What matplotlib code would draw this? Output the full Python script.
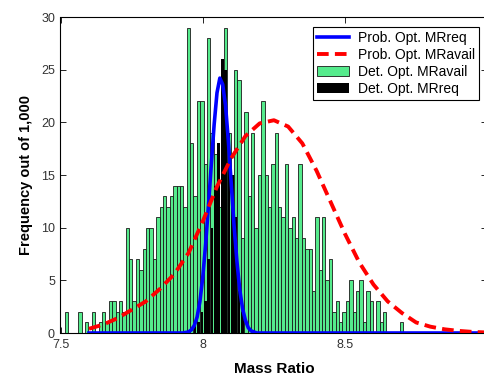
import numpy as np
import matplotlib
matplotlib.use('Agg')
import matplotlib.pyplot as plt

plt.rcParams['font.family'] = ['Liberation Sans', 'DejaVu Sans']

# histogram bins
bin_start = 7.515
bin_width = 0.0119

# Det. Opt. MRavail counts, one per bin
avail_counts = [2, 0, 0, 0, 2, 0, 1, 0, 2, 0,
                1, 2, 1, 3, 3, 2, 3, 2, 10, 7,
                3, 7, 6, 8, 10, 10, 7, 11, 12, 13,
                12, 13, 14, 14, 14, 12, 29, 18, 13, 22,
                22, 16, 28, 19, 17, 12, 15, 29, 19, 15,
                25, 24, 9, 21, 13, 19, 10, 15, 22, 15,
                12, 16, 19, 12, 11, 16, 10, 11, 9, 16,
                9, 8, 8, 4, 11, 6, 11, 5, 7, 2,
                3, 1, 2, 3, 5, 2, 4, 5, 1, 4,
                3, 0, 3, 1, 2, 0, 0, 0, 0, 1]

# Det. Opt. MRreq counts, starting at bin 38
req_first_bin = 38
req_counts = [1, 1, 2, 3, 7, 10, 14, 18, 26, 25, 19, 15, 11, 4, 2]

# Prob. Opt. MRreq curve
req_x = [7.60, 7.93, 7.95, 7.96, 7.97, 7.98, 7.99, 8.00, 8.01, 8.02,
         8.03, 8.04, 8.05, 8.06, 8.07, 8.08, 8.09, 8.10, 8.11, 8.12,
         8.13, 8.14, 8.15, 8.16, 8.17, 8.19, 9.00]
req_y = [0, 0, 0.1, 0.3, 0.7, 1.5, 3.0, 5.3, 8.4, 12.1,
         16.0, 19.8, 22.8, 24.2, 23.6, 21.6, 18.2, 14.2, 10.2, 6.8,
         4.1, 2.3, 1.2, 0.5, 0.2, 0, 0]

# Prob. Opt. MRavail curve
avail_x = [7.60, 7.65, 7.70, 7.75, 7.80, 7.85, 7.90, 7.95, 8.00, 8.05,
           8.10, 8.15, 8.20, 8.25, 8.30, 8.35, 8.40, 8.45, 8.50, 8.55,
           8.60, 8.65, 8.70, 8.75, 8.80, 8.85, 8.90, 8.95, 9.00]
avail_y = [0.4, 0.8, 1.4, 2.2, 3.0, 4.2, 5.6, 7.6, 10.6, 13.9,
           16.6, 18.7, 19.9, 20.2, 19.6, 18.0, 15.4, 12.4, 9.4, 6.7,
           4.6, 3.0, 1.9, 1.0, 0.6, 0.35, 0.2, 0.1, 0.05]

centers = bin_start + (np.arange(len(avail_counts)) + 0.5) * bin_width
req_centers = centers[req_first_bin:req_first_bin + len(req_counts)]

fig = plt.figure(figsize=(4.85, 3.79), dpi=100)
ax = fig.add_axes([60.5 / 485, 1 - 333 / 379, 426.8 / 485, 316 / 379])

b1 = ax.bar(centers, avail_counts, width=bin_width, color='#55eb8c',
            edgecolor='#1a1a1a', linewidth=0.6, zorder=2)
b2 = ax.bar(req_centers, req_counts, width=bin_width * 0.8, color='black',
            edgecolor='none', zorder=3)
l1, = ax.plot(req_x, req_y, color='#0000ff', lw=2.6, zorder=4)
l2, = ax.plot(avail_x, avail_y, color='#ff0000', lw=2.8, ls=(0, (3, 1.6)),
              zorder=5)

ax.set_xlim(7.5, 9)
ax.set_ylim(0, 30)
ax.set_xticks([7.5, 8, 8.5, 9])
ax.set_xticklabels(['7.5', '8', '8.5', '9'])
ax.set_yticks(range(0, 31, 5))
ax.tick_params(direction='in', top=True, right=True, labelsize=9,
               length=4, width=0.6, labelcolor='#333333', pad=4)
for s in ax.spines.values():
    s.set_linewidth(0.8)

ax.set_xlabel('Mass Ratio', fontsize=11, fontweight='bold', labelpad=8)
ax.set_ylabel('Frequency out of 1,000', fontsize=10.5, fontweight='bold',
              labelpad=6)

leg = ax.legend([l1, l2, b1, b2],
                ['Prob. Opt. MRreq', 'Prob. Opt. MRavail',
                 'Det. Opt. MRavail', 'Det. Opt. MRreq'],
                loc='upper right', bbox_to_anchor=(479 / 485, 1 - 27 / 379),
                bbox_transform=fig.transFigure, borderaxespad=0,
                fontsize=10, frameon=True, fancybox=False, framealpha=1,
                edgecolor='black', handlelength=2.3, handletextpad=0.6,
                labelspacing=0.2, borderpad=0.3)
leg.get_frame().set_linewidth(0.8)

fig.savefig('out.png', dpi=100)
